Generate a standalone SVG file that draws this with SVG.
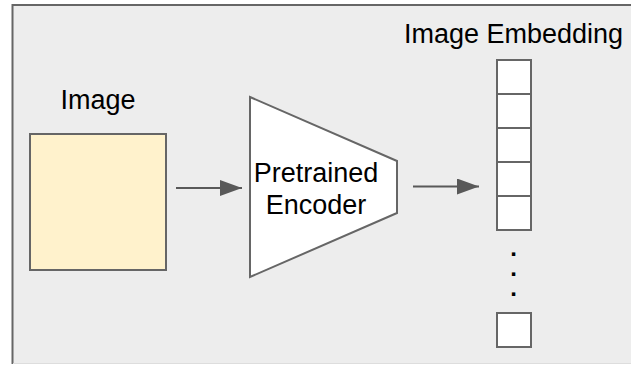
<svg xmlns="http://www.w3.org/2000/svg" width="631" height="365" viewBox="0 0 631 365">
  <style>
    .lbl { font-family: "Liberation Sans", Arial, sans-serif; font-size: 27px; fill: #000; }
    .dot { font-family: "Liberation Sans", Arial, sans-serif; font-size: 24px; font-weight: bold; fill: #000; }
    .shape { stroke: #666666; stroke-width: 2; }
    .cell { fill: #ffffff; stroke: #666666; stroke-width: 2; }
    .conn { stroke: #595959; stroke-width: 2; fill: none; }
  </style>
  <defs>
    <marker id="arrow" markerUnits="userSpaceOnUse" markerWidth="24" markerHeight="18" refX="22" refY="8" orient="auto">
      <path d="M0,0 L22,8 L0,16 Z" fill="#595959"/>
    </marker>
  </defs>
  <rect x="0" y="0" width="631" height="365" fill="#ffffff"/>
  <g id="frame">
    <rect x="12.5" y="5" width="640" height="358.5" fill="#ededed"/>
    <path d="M12.5,364 L12.5,5 L631,5" fill="none" stroke="#666666" stroke-width="2"/>
    <line x1="13" y1="363.5" x2="631" y2="363.5" stroke="#dddddd" stroke-width="1"/>
  </g>
  <g id="image">
    <text class="lbl" x="98" y="108.5" text-anchor="middle">Image</text>
    <rect class="shape" x="30" y="134" width="136" height="136" fill="#fff2cc"/>
  </g>
  <g id="encoder">
    <polygon class="shape" points="250,97 397,161 397,213 250,277" fill="#ffffff"/>
    <text class="lbl" x="316" y="182" text-anchor="middle">Pretrained</text>
    <text class="lbl" x="316" y="213.5" text-anchor="middle">Encoder</text>
  </g>
  <g id="embedding">
    <text class="lbl" x="513.5" y="42.5" text-anchor="middle">Image Embedding</text>
    <rect class="cell" x="497" y="60" width="34" height="34"/>
    <rect class="cell" x="497" y="94" width="34" height="34"/>
    <rect class="cell" x="497" y="128" width="34" height="34"/>
    <rect class="cell" x="497" y="162" width="34" height="34"/>
    <rect class="cell" x="497" y="196" width="34" height="34"/>
    <text class="dot" x="513.5" y="256" text-anchor="middle">.</text>
    <text class="dot" x="513.5" y="276" text-anchor="middle">.</text>
    <text class="dot" x="513.5" y="296" text-anchor="middle">.</text>
    <rect class="cell" x="497" y="313" width="34" height="34"/>
  </g>
  <g id="connectors">
    <line class="conn" x1="176" y1="188" x2="242" y2="188" marker-end="url(#arrow)"/>
    <line class="conn" x1="413" y1="186.5" x2="479" y2="186.5" marker-end="url(#arrow)"/>
  </g>
</svg>
